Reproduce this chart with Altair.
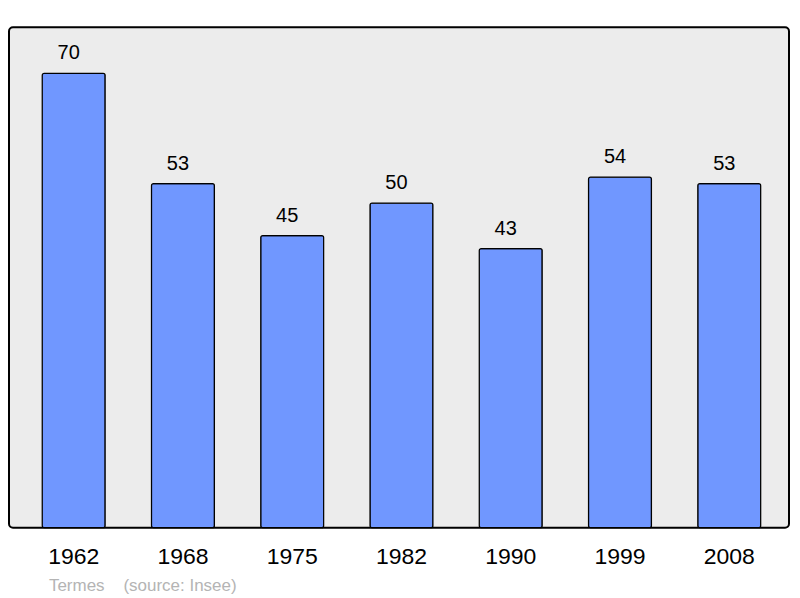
import altair as alt
import pandas as pd

years = ["1962", "1968", "1975", "1982", "1990", "1999", "2008"]
population = [70, 53, 45, 50, 43, 54, 53]

df = pd.DataFrame({"year": years, "pop": population})

FONT = "Liberation Sans"

x = alt.X("year:N", sort=years, title=None,
          scale=alt.Scale(paddingInner=0.424, paddingOuter=0.2815, align=0.54),
          axis=alt.Axis(labelAngle=0, ticks=False, domain=False, labelFontSize=23,
                        labelFont=FONT, labelColor="#000000", labelPadding=18))
y = alt.Y("pop:Q", axis=None, scale=alt.Scale(domain=[0, 77.08], nice=False, zero=True))

bars = alt.Chart(df).mark_bar(color="#7097ff", stroke="#000000", strokeWidth=1.2,
                              cornerRadius=2).encode(x=x, y=y)
labels = alt.Chart(df).mark_text(baseline="alphabetic", dy=-14, dx=-5, fontSize=20, font=FONT,
                                 color="#000000").encode(x=x, y=y, text="pop:Q")

chart = (bars + labels).properties(
    width=781, height=501,
    autosize=alt.AutoSizeParams(type="none"),
    padding={"left": 1, "top": 19, "right": 3, "bottom": 70},
    title=alt.Title("Termes\u00a0\u00a0\u00a0\u00a0(source: Insee)", orient="bottom", anchor="start",
                    fontSize=17, font=FONT, color="#b4b4b4", fontWeight="normal",
                    dx=40, offset=9),
).configure_view(
    fill="#ececec", stroke="#000000", strokeWidth=2, cornerRadius=4
)

chart.save("out.html", embed_options={"renderer": "svg", "actions": False})
